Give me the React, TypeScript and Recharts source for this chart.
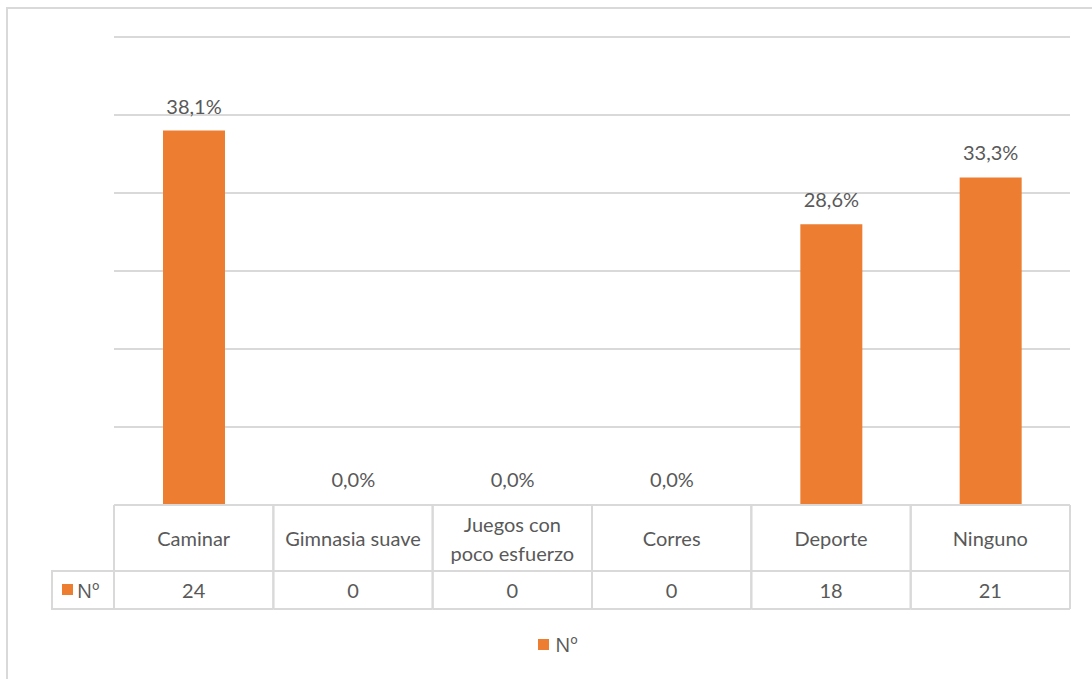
import React from 'react';
import { BarChart, Bar, XAxis, YAxis, CartesianGrid, LabelList, Legend } from 'recharts';

// categorías y valores (Nº de personas) + etiquetas en %
const categories = ['Caminar', 'Gimnasia suave', 'Juegos con\npoco esfuerzo', 'Corres', 'Deporte', 'Ninguno'];
const counts = [24, 0, 0, 0, 18, 21];
const percentLabels = ['38,1%', '0,0%', '0,0%', '0,0%', '28,6%', '33,3%'];
const yTicks = [0, 5, 10, 15, 20, 25, 30];
const seriesName = 'Nº';

const W = 1092;
const H = 679;
const MARGIN = { top: 37, right: 22, left: 114, bottom: 40 };
const PLOT_W = W - MARGIN.left - MARGIN.right;
const CELL_W = PLOT_W / categories.length;
const ROW1 = 66; // alto fila categorías
const ROW2 = 38; // alto fila valores
const HEAD_W = 62;
const ORANGE = '#ED7D31';
const GRID = '#d9d9d9';
const TXT = '#595959';
const FONT = 'Lato, "Open Sans", sans-serif';
const ORD_FONT = '"Open Sans", sans-serif';

const data = categories.map((c, i) => ({ name: c, n: counts[i], pct: percentLabels[i] }));

function TableTick(props: any) {
  const { x, y, payload, index } = props;
  const left = x - CELL_W / 2;
  const lines = String(payload.value).split('\n');
  const midY = y + ROW1 / 2;
  return (
    <g>
      {/* fila de categorías */}
      <line x1={left} y1={y} x2={left + CELL_W} y2={y} stroke={GRID} strokeWidth={2} />
      <line x1={left} y1={y} x2={left} y2={y + ROW1 + ROW2} stroke={GRID} strokeWidth={2} />
      <line x1={left + CELL_W} y1={y} x2={left + CELL_W} y2={y + ROW1 + ROW2} stroke={GRID} strokeWidth={2} />
      <line x1={left} y1={y + ROW1} x2={left + CELL_W} y2={y + ROW1} stroke={GRID} strokeWidth={2} />
      <line x1={left} y1={y + ROW1 + ROW2} x2={left + CELL_W} y2={y + ROW1 + ROW2} stroke={GRID} strokeWidth={2} />
      {lines.map((l, i) => (
        <text
          key={i}
          x={x}
          y={midY + (i - (lines.length - 1) / 2) * 29}
          textAnchor="middle"
          dominantBaseline="central"
          fill={TXT}
          fontSize={20}
          fontFamily={FONT}
        >
          {l}
        </text>
      ))}
      <text
        x={x}
        y={y + ROW1 + ROW2 / 2}
        textAnchor="middle"
        dominantBaseline="central"
        fill={TXT}
        fontSize={20}
        fontFamily={FONT}
      >
        {counts[index]}
      </text>
      {index === 0 && (
        <g>
          <rect
            x={left - HEAD_W}
            y={y + ROW1}
            width={HEAD_W}
            height={ROW2}
            fill="none"
            stroke={GRID}
            strokeWidth={2}
          />
          <rect x={left - HEAD_W + 10} y={y + ROW1 + ROW2 / 2 - 6} width={11} height={11} fill={ORANGE} />
          <text
            x={left - HEAD_W + 25}
            y={y + ROW1 + ROW2 / 2}
            dominantBaseline="central"
            fill={TXT}
            fontSize={20}
            fontFamily={ORD_FONT}
          >
            {seriesName}
          </text>
        </g>
      )}
    </g>
  );
}

function LegendContent() {
  return (
    <div style={{ display: 'flex', justifyContent: 'center', alignItems: 'center', fontFamily: ORD_FONT, fontSize: 20, color: TXT }}>
      <span style={{ display: 'inline-block', width: 11, height: 11, background: ORANGE, marginRight: 6 }} />
      <span>{seriesName}</span>
    </div>
  );
}

export default function App() {
  return (
    <div style={{ position: 'absolute', left: 0, top: 0, width: W, height: H, overflow: 'hidden', background: '#fff' }}>
      <div
        style={{
          position: 'absolute',
          left: 6,
          top: 7,
          width: W + 20,
          height: H + 20,
          border: `2px solid ${GRID}`,
          boxSizing: 'border-box',
        }}
      />
      <div style={{ position: 'absolute', left: 0, top: 0 }}>
        <BarChart width={W} height={H} data={data} margin={MARGIN}>
          <CartesianGrid vertical={false} stroke={GRID} strokeWidth={2} />
          <YAxis hide domain={[0, 30]} ticks={yTicks} />
          <XAxis
            dataKey="name"
            axisLine={false}
            tickLine={false}
            tickSize={0}
            tickMargin={0}
            height={104}
            interval={0}
            tick={<TableTick />}
          />
          <Legend
            verticalAlign="bottom"
            height={30}
            wrapperStyle={{ top: 631, bottom: 'auto', left: 0, width: 1116 }}
            content={<LegendContent />}
          />
          <Bar dataKey="n" name={seriesName} fill={ORANGE} barSize={62} minPointSize={1} isAnimationActive={false}>
            <LabelList dataKey="pct" position="top" offset={17} fill={TXT} fontSize={20} fontFamily={FONT} />
          </Bar>
        </BarChart>
      </div>
    </div>
  );
}
